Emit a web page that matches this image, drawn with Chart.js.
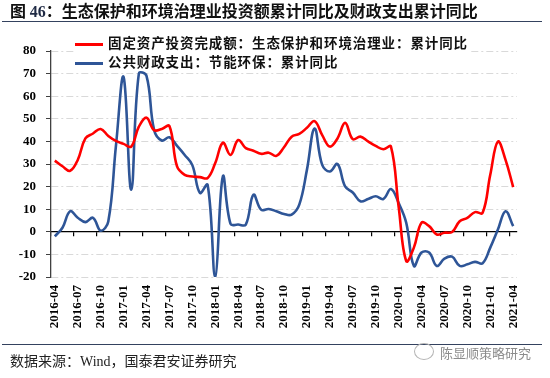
<!DOCTYPE html>
<html lang="zh">
<head>
<meta charset="utf-8">
<script src="https://cdn.jsdelivr.net/npm/chart.js@4.4.0/dist/chart.umd.min.js"></script>
<style>
  body { margin: 0; background: #fff; }
  #wrap { position: relative; width: 550px; height: 378px; overflow: hidden; font-family: "Noto Sans CJK SC", sans-serif; }
  #cbox { position: absolute; left: 0; top: 0; width: 550px; height: 378px; }
  .title { position: absolute; left: 10px; top: 0px; font-size: 16px; font-weight: 700; color: #111; line-height: 20px; white-space: nowrap; }
  .title .num { font-family: "Liberation Serif", serif; color: #1f2a44; }
  .rule { position: absolute; left: 2px; width: 540px; height: 0; border-top: 1.5px solid #34425f; }
  #legend { position: absolute; left: 75px; top: 33px; background: #fff; padding-right: 3px; }
  #legend .row { height: 19px; line-height: 19px; font-size: 13.5px; font-weight: 700; letter-spacing: 0.9px; color: #111; white-space: nowrap; }
  #legend .sw { display: inline-block; width: 28px; height: 2.5px; vertical-align: middle; margin-right: 5px; }
  .src { position: absolute; left: 10px; top: 351px; font-size: 14px; line-height: 18px; color: #222; white-space: nowrap; }
  .src .en { font-family: "Liberation Serif", serif; }
  .wm { position: absolute; left: 440px; top: 345px; font-size: 13px; line-height: 16px; color: #8c8c8c; white-space: nowrap; }
  .wm-icon { position: absolute; left: 414px; top: 343px; width: 18px; height: 15px; border: 1.5px solid #b5b5b5; border-radius: 50%; }
</style>
</head>
<body>
<div id="wrap">
  <div id="cbox"><canvas id="chart"></canvas></div>
  <div class="title">图 <span class="num">46</span>：生态保护和环境治理业投资额累计同比及财政支出累计同比</div>
  <div class="rule" style="top:21px"></div>
  <div id="legend"></div>
  <div class="rule" style="top:344px"></div>
  <div class="src">数据来源：<span class="en">Wind</span>，国泰君安证券研究</div>
  <div class="wm-icon"></div>
  <div class="wm">陈显顺策略研究</div>
</div>
<script>
// monthly categories, 2016-04 .. 2021-04
const months = [
  '2016-04','2016-05','2016-06','2016-07','2016-08','2016-09','2016-10','2016-11','2016-12',
  '2017-01','2017-02','2017-03','2017-04','2017-05','2017-06','2017-07','2017-08','2017-09','2017-10','2017-11','2017-12',
  '2018-01','2018-02','2018-03','2018-04','2018-05','2018-06','2018-07','2018-08','2018-09','2018-10','2018-11','2018-12',
  '2019-01','2019-02','2019-03','2019-04','2019-05','2019-06','2019-07','2019-08','2019-09','2019-10','2019-11','2019-12',
  '2020-01','2020-02','2020-03','2020-04','2020-05','2020-06','2020-07','2020-08','2020-09','2020-10','2020-11','2020-12',
  '2021-01','2021-02','2021-03','2021-04'
];

const invest = [
  31.5, 29, 27, 31.8, 41.3, 43.5, 45.5, 42.4, 40.2,
  38.9, 37.7, 46.5, 50.5, 45, 45.5, 46.8, 28.9, 25.2, 24.5, 24.2, 23.8,
  30.4, 39.4, 34, 40.6, 37, 35.9, 34.5, 35, 33.6, 37.4, 42.1, 43.3,
  46, 49, 42.8, 37.7, 41.3, 48.2, 41, 42.1, 40, 38, 36.5, 37.7,
  11.3, -12.9, -7, 4, 2.5, -1.2, -0.4, -0.1, 4.7, 6.2, 8.7, 8.4,
  25.2, 39.9, 31.8, 19.8
];

const fiscal = [
  -2, 1.8, 9.1, 6.2, 4.3, 6.2, 0.5, 4.6, 38,
  68.5, 18.6, 70, 69, 45, 40.4, 41.8, 38, 34, 29.5, 17.2, 20.8,
  -20, 24.5, 3.5, 3.2, 3.2, 16.4, 9.8, 10.1, 9.1, 7.9, 7.6, 12,
  27.4, 45.7, 29.6, 26.7, 30, 20.1, 17.4, 13.5, 14.5, 15.7, 14.5, 18.9,
  12.8, 4, -15.1, -9.2, -9.2, -15.1, -11.9, -11, -15.1, -14.4, -13.3, -13.9,
  -7, 1, 9.1, 2.5
];

const seriesNames = [
  '固定资产投资完成额：生态保护和环境治理业：累计同比',
  '公共财政支出：节能环保：累计同比'
];
const seriesColors = ['#ff0000', '#2e5597'];

const yMin = -20, yMax = 80, yStep = 10;

const serif = { family: 'Liberation Serif', weight: 'bold', size: 13 };

const chart = new Chart(document.getElementById('chart'), {
  type: 'line',
  data: {
    labels: months,
    datasets: [
      { label: seriesNames[0], data: invest, borderColor: seriesColors[0], backgroundColor: seriesColors[0], xAxisID: 'x', yAxisID: 'y' },
      { label: seriesNames[1], data: fiscal, borderColor: seriesColors[1], backgroundColor: seriesColors[1], xAxisID: 'x', yAxisID: 'y' }
    ]
  },
  options: {
    responsive: true,
    maintainAspectRatio: false,
    animation: false,
    layout: { padding: { left: 0, right: 33, top: 51, bottom: 41 } },
    elements: {
      line: { borderWidth: 2.6, tension: 0.4 },
      point: { radius: 0 }
    },
    plugins: { legend: { display: false }, tooltip: { enabled: false } },
    scales: {
      x: {
        type: 'category',
        offset: true,
        grid: { display: false, drawTicks: false },
        border: { display: false },
        ticks: {
          autoSkip: false,
          minRotation: 90,
          maxRotation: 90,
          padding: 8,
          color: '#000',
          font: serif,
          callback: (v, i) => (i % 3 === 0 ? months[i] : '')
        },
        afterFit: (s) => { s.height = 60; }
      },
      x2: {
        type: 'category',
        axis: 'x',
        position: { y: 0 },
        offset: true,
        grid: {
          offset: true,
          drawOnChartArea: false,
          tickLength: 4,
          lineWidth: 1.2,
          color: (c) => (c.index % 3 === 0 ? '#000' : 'rgba(0,0,0,0)')
        },
        border: { display: true, color: '#000', width: 1.3 },
        ticks: { display: false, autoSkip: false }
      },
      y: {
        min: yMin,
        max: yMax,
        ticks: { stepSize: yStep, padding: 10, color: '#000', font: serif },
        grid: {
          color: (c) => (c.tick && c.tick.value === 0 ? '#000' : '#d9d9d9'),
          lineWidth: 1,
          tickLength: 5,
          tickColor: '#404040',
          tickBorderDash: []
        },
        border: { display: true, color: '#404040', width: 1.3, dash: [7, 3, 2, 3] },
        afterFit: (s) => { s.width = 51; }
      }
    }
  }
});

// legend built from the chart's datasets
const legendBox = document.getElementById('legend');
chart.data.datasets.forEach((ds) => {
  const row = document.createElement('div');
  row.className = 'row';
  const sw = document.createElement('span');
  sw.className = 'sw';
  sw.style.background = ds.borderColor;
  const tx = document.createElement('span');
  tx.textContent = ds.label;
  row.append(sw, tx);
  legendBox.append(row);
});
</script>
</body>
</html>
